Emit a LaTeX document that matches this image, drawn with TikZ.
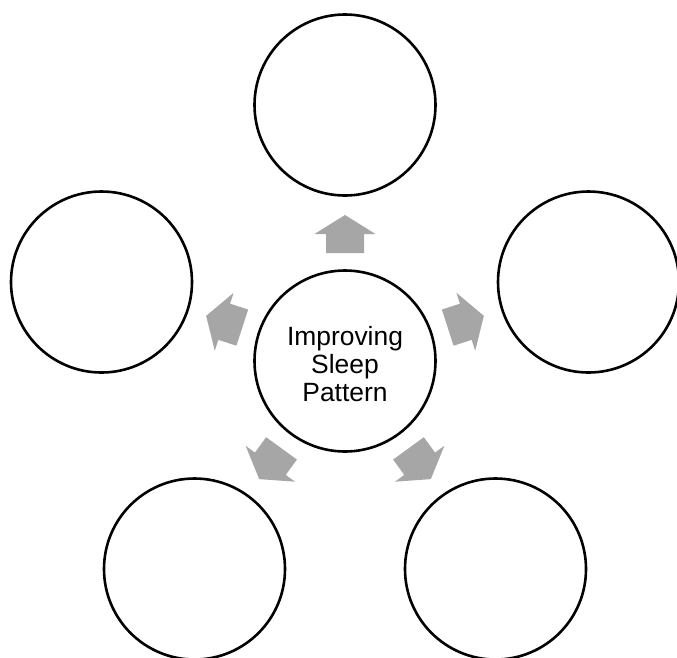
\documentclass[tikz,border=0pt]{standalone}
\usepackage{fontspec}
\setmainfont{Liberation Sans}
\definecolor{arrowgray}{HTML}{A6A6A6}
\begin{document}
\begin{tikzpicture}[x=1pt,y=-1pt,
  ring/.style={circle,draw=black,line width=2.6pt,fill=white,minimum size=181pt,inner sep=0pt},
  blockarrow/.style={fill=arrowgray,draw=none}]
\useasboundingbox (0,0) rectangle (677,657);
\clip (0,0) rectangle (677,657);
\coordinate (C) at (345,361);
% block arrows (drawn in local frame pointing up, then rotated)
\foreach \a in {0,72,144,216,288}{
  \begin{scope}[shift={(C)},rotate=-\a]
    \fill[blockarrow] (-19,-108) -- (-19,-127) -- (-30.5,-127) -- (0,-146) -- (30.5,-127) -- (19,-127) -- (19,-108) -- cycle;
  \end{scope}
}
\node[ring] (c) at (C) {};
\node[align=center,font=\fontsize{26.4}{27.8}\selectfont] (t) at ([yshift=-3pt]C) {Improving\\Sleep\\Pattern};
\node[ring] (n1) at (345,105) {};
\node[ring] (n2) at (588.5,282) {};
\node[ring] (n3) at (495.5,569) {};
\node[ring] (n4) at (194.5,569) {};
\node[ring] (n5) at (101.5,282) {};
\end{tikzpicture}
\end{document}
